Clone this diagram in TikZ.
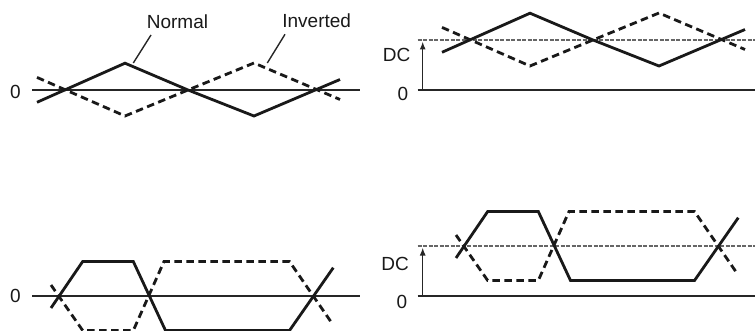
\documentclass[tikz,border=0pt]{standalone}
\usepackage{fontspec}
\setmainfont{Liberation Sans}
\usepackage{tikz}
\usetikzlibrary{arrows.meta}

\begin{document}
\begin{tikzpicture}[
  x=1pt, y=-1pt,
  wave/.style={line width=2.8pt, line join=miter, black!90},
  invwave/.style={wave, dash pattern=on 7.5pt off 4.5pt},
  axis/.style={line width=1.4pt, black!85},
  dcline/.style={line width=1.3pt, black!60, dash pattern=on 4pt off 1.5pt},
  leader/.style={line width=1.4pt, black!85},
  dcarr/.style={-{Latex[length=8pt,width=6pt]}, line width=1.4pt, black!85},
  lbl/.style={font=\fontsize{19}{21}\selectfont, inner sep=0pt, text=black!90},
]
  \useasboundingbox (0,0) rectangle (755,331);
  \clip (0,0) rectangle (755,331);

  % labels of the two waves
  \node[lbl] (normal)   at (177.5,22)   {Normal};
  \node[lbl] (inverted) at (316.7,20.5) {Inverted};
  \coordinate (normalfoot)   at (151,35);
  \coordinate (normaltip)    at (133.3,63);
  \coordinate (invertedfoot) at (285,34.3);
  \coordinate (invertedtip)  at (267.3,63);
  \draw[leader] (normalfoot) -- (normaltip);
  \draw[leader] (invertedfoot) -- (invertedtip);

  % top left: triangle about 0
  \begin{scope}[shift={(0,90)}]
    \node[lbl] (zeroA) at (15.3,1.5) {0};
    \draw[axis] (32,0) -- (360,0);
    \draw[invwave] (37,-12.6) -- (125,26) -- (188,0) -- (254,-27) -- (340,9.5);
    \draw[wave] (37,12.3) -- (125,-26.8) -- (188,0) -- (254,26) -- (340,-10.5);
  \end{scope}

  % top right: triangle about DC
  \begin{scope}[shift={(405,40)}]
    \node[lbl] (dcB)   at (-8.5,14.5) {DC};
    \node[lbl] (zeroB) at (-2,54) {0};
    \draw[axis] (12.7,50) -- (350,50);
    \draw[dcline] (12.7,0) -- (350,0);
    \coordinate (dcbaseB) at (17.7,50);
    \coordinate (dctopB)  at (17.7,1.5);
    \draw[dcarr] (dcbaseB) -- (dctopB);
    \draw[invwave] (37,-12.6) -- (125,26) -- (188,0) -- (254,-27) -- (340,9.5);
    \draw[wave] (37,12.3) -- (125,-26.8) -- (188,0) -- (254,26) -- (340,-10.5);
  \end{scope}

  % bottom left: trapezoid about 0
  \begin{scope}[shift={(0,296)}]
    \node[lbl] (zeroC) at (15.3,0) {0};
    \draw[axis] (32,0) -- (360,0);
    \draw[invwave] (51,-11) -- (82.7,34.5) -- (133.3,34.5) -- (164,-34.5) -- (289.5,-34.5) -- (332.5,28);
    \draw[wave] (51,12) -- (82.7,-34.5) -- (133.3,-34.5) -- (165.5,34.5) -- (289.5,34.5) -- (333.3,-28.3);
  \end{scope}

  % bottom right: trapezoid about DC
  \begin{scope}[shift={(405,246)}]
    \node[lbl] (dcD)   at (-10,18) {DC};
    \node[lbl] (zeroD) at (-3,56) {0};
    \draw[axis] (12.7,50) -- (350,50);
    \draw[dcline] (12.7,0) -- (350,0);
    \coordinate (dcbaseD) at (17.7,50);
    \coordinate (dctopD)  at (17.7,1.5);
    \draw[dcarr] (dcbaseD) -- (dctopD);
    \draw[invwave] (51,-11) -- (82.7,34.5) -- (133.3,34.5) -- (164,-34.5) -- (289.5,-34.5) -- (332.5,28);
    \draw[wave] (51,12) -- (82.7,-34.5) -- (133.3,-34.5) -- (165.5,34.5) -- (289.5,34.5) -- (333.3,-28.3);
  \end{scope}
\end{tikzpicture}
\end{document}
